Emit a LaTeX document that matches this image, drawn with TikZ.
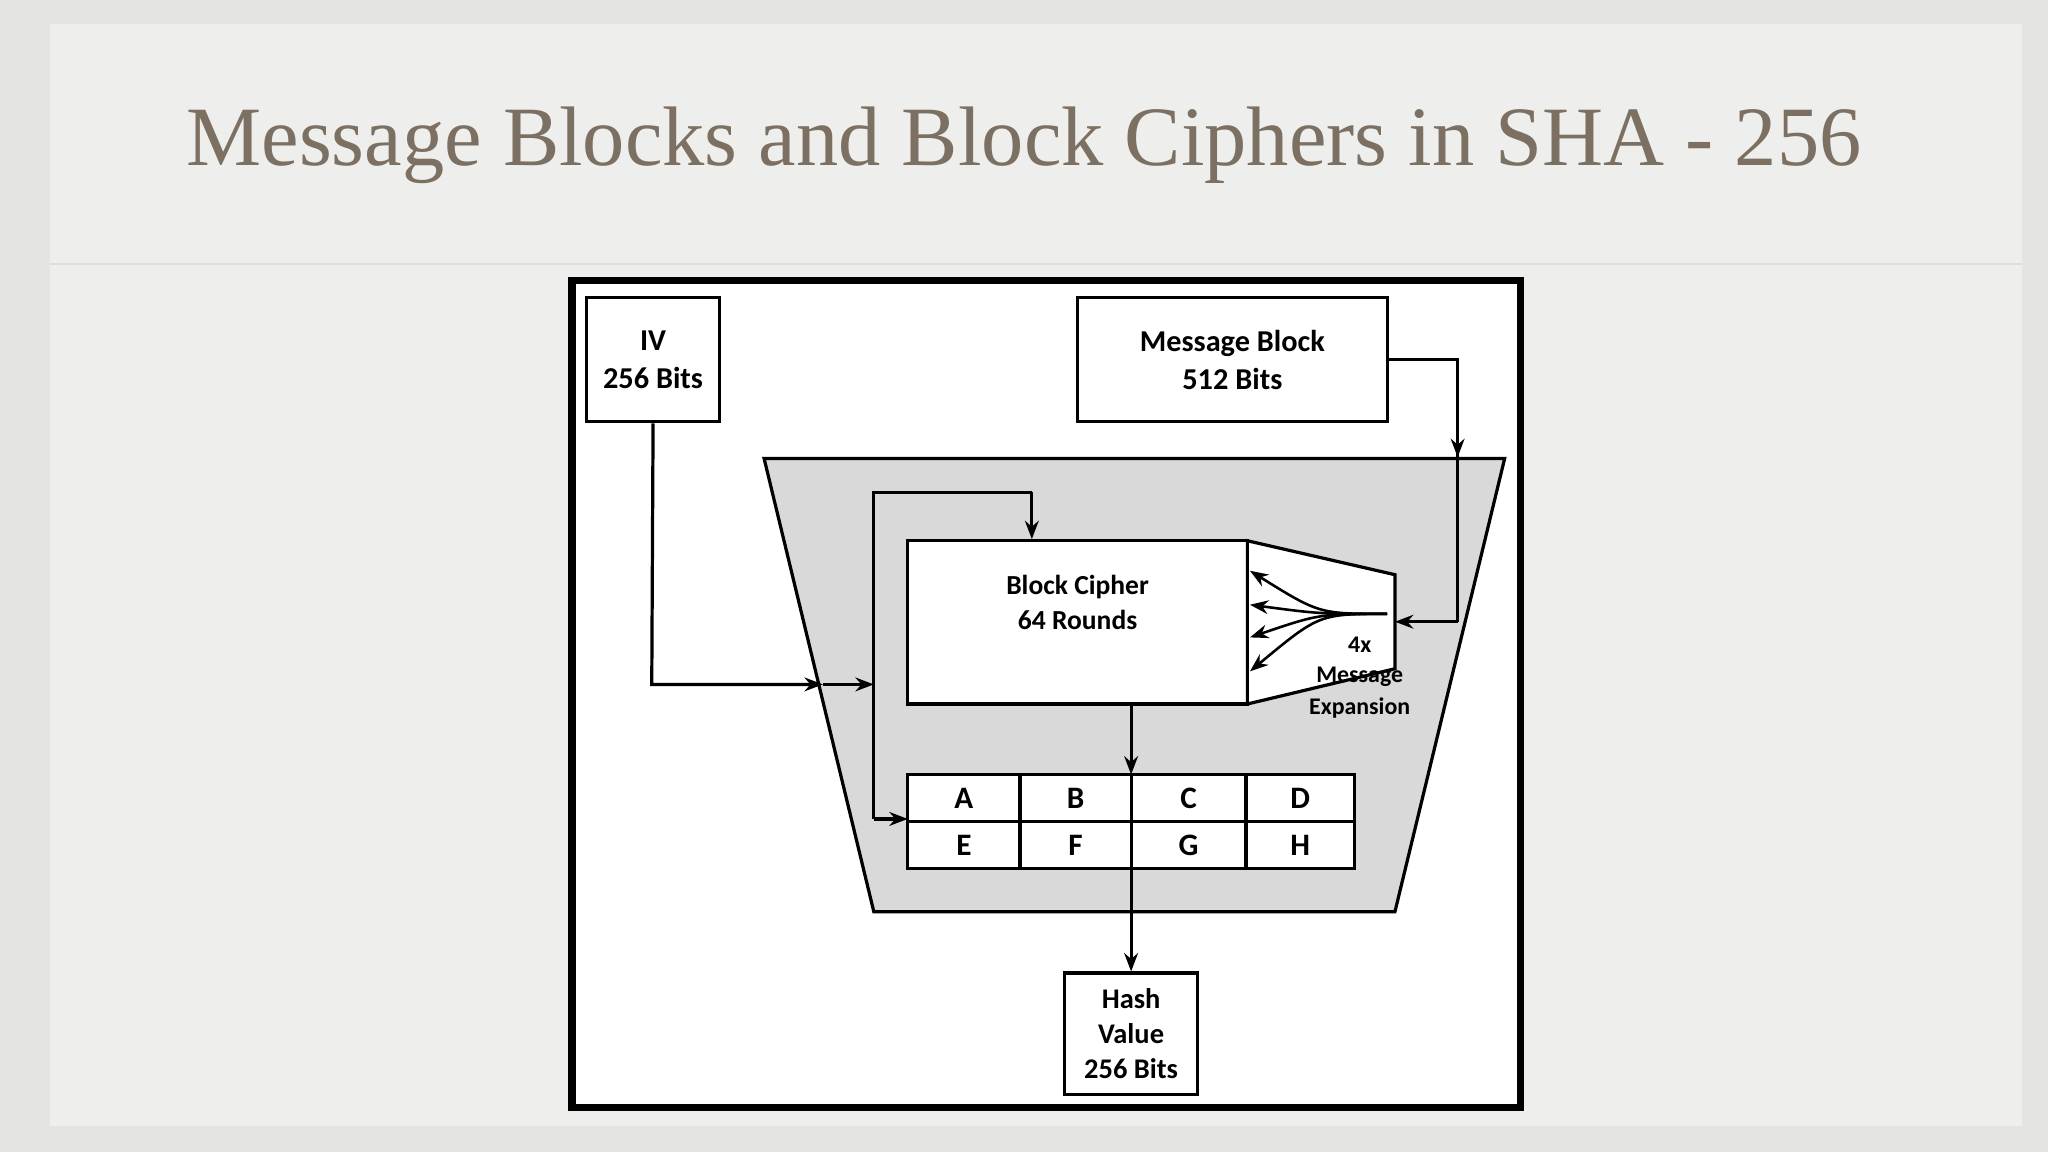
\documentclass[tikz,border=0pt]{standalone}
\usepackage{fontspec}
\usetikzlibrary{arrows.meta}
\setmainfont{Liberation Serif}
\newfontfamily\calfont{Carlito}
\begin{document}
\begin{tikzpicture}[x=0.05cm,y=-0.05cm,
 bx/.style={draw=black,line width=3.5pt,fill=white,inner sep=0,font=\calfont\bfseries\fontsize{33}{42}\selectfont,align=center},
 cell/.style={inner sep=0,font=\calfont\bfseries\fontsize{34}{40}\selectfont},
 ar/.style={line width=3.5pt,-{Stealth[length=20pt,width=15pt]}},
 ln/.style={line width=3.5pt},
 lbl/.style={font=\calfont\bfseries\fontsize{26}{30}\selectfont}]
\useasboundingbox (0,0) rectangle (1568,882);
\fill[color={rgb,255:red,228;green,228;blue,225}] (0,0) rectangle (1568,882);
\fill[color={rgb,255:red,238;green,238;blue,236}] (38,18) rectangle (1548,862);
\draw[color={rgb,255:red,222;green,222;blue,219},line width=1.5pt] (38,202) -- (1548,202);
\node[font=\fontsize{92}{100}\selectfont,text={rgb,255:red,124;green,112;blue,98}] (title) at (784,111) {Message Blocks and Block Ciphers in SHA - 256};
\draw[line width=8pt,fill=white] (438,215) rectangle (1164,848);
\draw[ln,fill={rgb,255:red,217;green,217;blue,217}] (585,351) -- (1152,351) -- (1068,698) -- (669,698) -- cycle;
\node[bx,minimum width=102*0.05cm,minimum height=95*0.05cm] (iv) at (500,275.5) {IV\\256 Bits};
\node[bx,minimum width=237*0.05cm,minimum height=95*0.05cm] (mb) at (943.5,275.5) {Message Block\\512 Bits};
\node[bx,minimum width=260*0.05cm,minimum height=125*0.05cm] (bc) at (825,476.5) {};
\node[font=\calfont\bfseries\fontsize{30}{38}\selectfont,align=center] (bct) at (825,461) {Block Cipher\\64 Rounds};
\draw[ln,fill=white] (955,414) -- (1068,440) -- (1068,512) -- (955,539) -- cycle;
\coordinate (ex) at (1068,476);
\foreach \y in {437,463,488,514} \draw[ar,line width=2.8pt] (1062,470) .. controls (1010,470) .. (957,\y);
\node[lbl] (x4) at (1041,494) {4x};
\node[lbl] (msg) at (1041,518) {Message};
\node[lbl] (exp) at (1041,542) {Expansion};
\draw[line width=3.5pt,fill=white] (695,593) rectangle (1037,665);
\draw[line width=3.5pt] (695,629) -- (1037,629) (781,593)--(781,665) (866,593)--(866,665) (954,593)--(954,665);
\node[cell] (A) at (738,611) {A};
\node[cell] (B) at (823.5,611) {B};
\node[cell] (C) at (910,611) {C};
\node[cell] (D) at (995.5,611) {D};
\node[cell] (E) at (738,647) {E};
\node[cell] (F) at (823.5,647) {F};
\node[cell] (G) at (910,647) {G};
\node[cell] (H) at (995.5,647) {H};
\coordinate (gridtop) at (866,593);
\coordinate (gridleft) at (695,627);
\node[bx,minimum width=102*0.05cm,minimum height=93*0.05cm,font=\calfont\bfseries\fontsize{31}{38}\selectfont] (hash) at (866,791.5) {Hash\\Value\\256 Bits};
\draw[ln] (mb.east |- 0,275) -- (1116,275) -- (1116,351);
\draw[ar] (1116,300) -- (1116,350);
\draw[ln] (1116,351) -- (1116,476);
\draw[ar] (1116,476) -- (ex);
\draw[ln] (iv.south) -- (499,524) -- (628,524);
\draw[ar] (560,524) -- (630,524);
\draw[ar] (630,524) -- (669,524);
\draw[ln] (669,627) -- (669,377) -- (790,377);
\draw[ar] (790,377) -- (bc.north -| 790,0);
\draw[ar] (669,627) -- (gridleft);
\draw[ar] (bc.south -| 866,0) -- (gridtop);
\draw[ar] (866,665) -- (hash.north);
\end{tikzpicture}
\end{document}
